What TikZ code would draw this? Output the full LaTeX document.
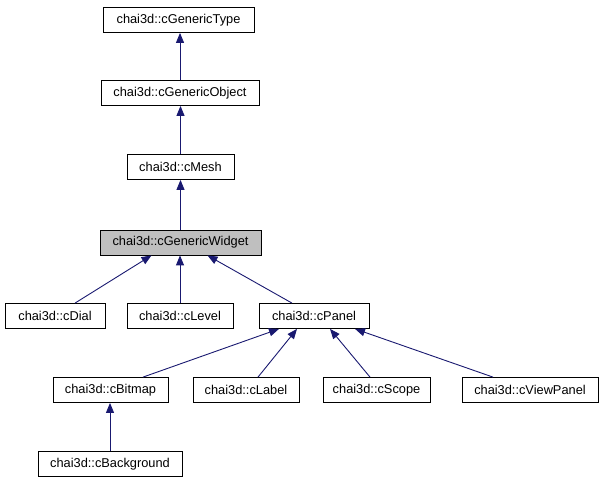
\documentclass[tikz,border=0pt]{standalone}
\usepackage{fontspec}
\setmainfont{Liberation Sans}
\usetikzlibrary{arrows.meta,calc}
\definecolor{edgeblue}{HTML}{191970}
\definecolor{graybox}{HTML}{BFBFBF}
\tikzset{
  cls/.style={draw=black, line width=0.8pt, fill=white, minimum height=25pt, inner sep=0pt,
    font=\fontsize{12.8}{15}\selectfont, text=black},
  hl/.style={cls, fill=graybox},
  inh/.style={draw=edgeblue, line width=0.9pt, -{Triangle[length=10pt,width=8pt]}}
}
\begin{document}
\begin{tikzpicture}[x=1pt,y=-1pt]
\useasboundingbox (0,0) rectangle (603,485);
\node[cls, minimum width=151pt] (gtype) at (178.5,20) {chai3d::cGenericType};
\node[cls, minimum width=158pt] (gobj) at (180,93) {chai3d::cGenericObject};
\node[cls, minimum width=107pt] (mesh) at (180.5,167) {chai3d::cMesh};
\node[hl, minimum width=161pt] (widget) at (180.5,242.5) {chai3d::cGenericWidget};
\node[cls, minimum width=100pt] (dial) at (55,316) {chai3d::cDial};
\node[cls, minimum width=106pt] (level) at (180,316) {chai3d::cLevel};
\node[cls, minimum width=110pt] (panel) at (314,316) {chai3d::cPanel};
\node[cls, minimum width=115pt] (bitmap) at (110.5,390) {chai3d::cBitmap};
\node[cls, minimum width=106pt] (label) at (246,390) {chai3d::cLabel};
\node[cls, minimum width=107pt] (scope) at (376.5,390) {chai3d::cScope};
\node[cls, minimum width=136pt] (viewpanel) at (530,390) {chai3d::cViewPanel};
\node[cls, minimum width=144pt] (background) at (110,464) {chai3d::cBackground};

\draw[inh] (gobj.north) -- (gobj.north |- gtype.south);
\draw[inh] (mesh.north) -- (mesh.north |- gobj.south);
\draw[inh] (widget.north) -- (widget.north |- mesh.south);
\draw[inh] ($(dial.north)+(20,0)$) -- ($(widget.south)+(-29,0)$);
\draw[inh] (level.north) -- (level.north |- widget.south);
\draw[inh] ($(panel.north)+(-22,0)$) -- ($(widget.south)+(27,0)$);
\draw[inh] ($(bitmap.north)+(32.5,0)$) -- ($(panel.south)+(-35,0)$);
\draw[inh] ($(label.north)+(12,0)$) -- ($(panel.south)+(-17,0)$);
\draw[inh] ($(scope.north)+(-6.5,0)$) -- ($(panel.south)+(16,0)$);
\draw[inh] ($(viewpanel.north)+(-37,0)$) -- ($(panel.south)+(41,0)$);
\draw[inh] (background.north) -- (background.north |- bitmap.south);
\end{tikzpicture}
\end{document}
